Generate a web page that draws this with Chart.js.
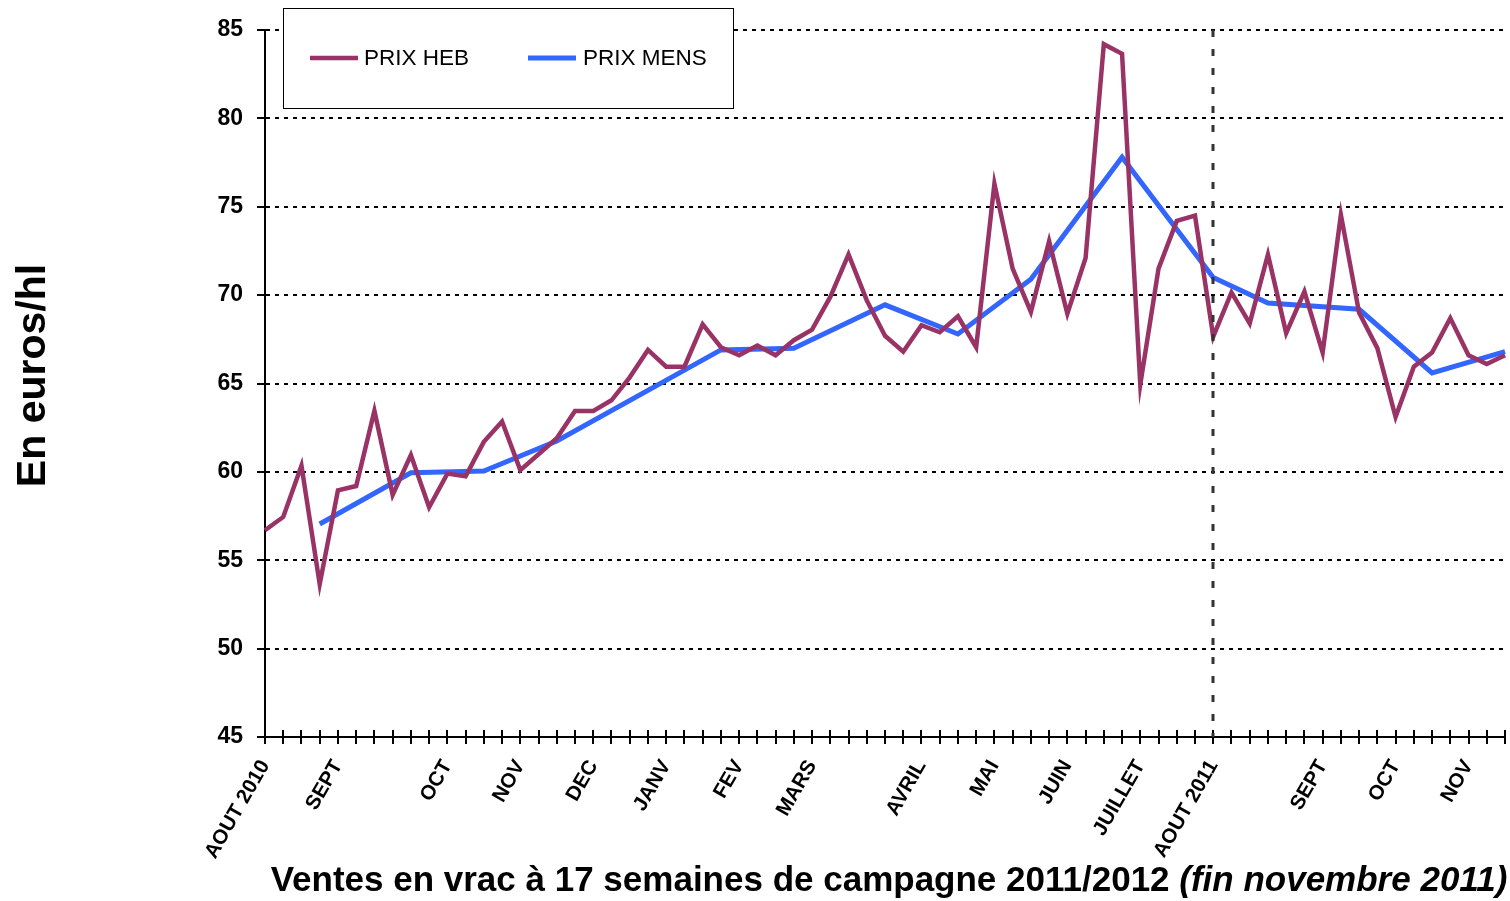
<!DOCTYPE html>
<html>
<head>
<meta charset="utf-8">
<script src="https://cdn.jsdelivr.net/npm/chart.js@4.4.1/dist/chart.umd.min.js"></script>
<style>
  html, body { margin: 0; padding: 0; background: #fff; }
  #wrap { width: 1510px; height: 901px; }
</style>
</head>
<body>
<div id="wrap"><canvas id="prixChart" width="1510" height="901"></canvas></div>
<script>
// ===== DATA =====
const monthNames = ['AOUT 2010', 'SEPT', 'OCT', 'NOV', 'DEC', 'JANV', 'FEV', 'MARS', 'AVRIL', 'MAI', 'JUIN', 'JUILLET', 'AOUT 2011', 'SEPT', 'OCT', 'NOV'];
const monthWeeks = [0, 4, 10, 14, 18, 22, 26, 30, 36, 40, 44, 48, 52, 58, 62, 66];

// weekly price (euros/hl)
const prixHeb = [
  56.7, 57.45, 60.35, 53.65, 58.95, 59.2, 63.45, 58.7, 60.95, 58.0,
  59.9, 59.75, 61.7, 62.85, 60.1, 61.0, 61.9, 63.45, 63.45, 64.05,
  65.35, 66.9, 65.95, 65.95, 68.35, 67.05, 66.6, 67.15, 66.6, 67.45,
  68.05, 69.9, 72.3, 69.7, 67.7, 66.8, 68.3, 67.9, 68.8, 67.05,
  76.3, 71.5, 69.05, 73.05, 68.95, 72.1, 84.2, 83.65, 64.95, 71.5,
  74.2, 74.5, 67.65, 70.15, 68.4, 72.3, 67.85, 70.2, 66.75, 74.55,
  69.0, 67.0, 63.1, 65.95, 66.75, 68.7, 66.6, 66.1, 66.6
];

// monthly price, one value per month, placed on its week
const prixMens = [
  null, null, null, 57.05, null, null, null, null, 59.95, null,
  null, null, 60.05, null, null, null, 61.75, null, null, null,
  null, null, null, null, null, 66.9, null, null, null, 67.0,
  null, null, null, null, 69.45, null, null, null, 67.8, null,
  null, null, 70.9, null, null, null, null, 77.8, null, null,
  null, null, 71.0, null, null, 69.55, null, null, null, null,
  69.2, null, null, null, 65.6, null, null, null, 66.8
];

const yTicks = [45, 50, 55, 60, 65, 70, 75, 80, 85];

const yTitle = 'En euros/hl';
const titleMain = 'Ventes en vrac à 17 semaines de campagne 2011/2012 ';
const titleNote = '(fin novembre 2011)';

const weekLabels = prixHeb.map((v, i) => {
  const k = monthWeeks.indexOf(i);
  return k >= 0 ? monthNames[k] : '';
});
const campagneWeek = weekLabels.indexOf('AOUT 2011');

const FONT = 'Arial, "Liberation Sans", sans-serif';

// ===== PLUGINS =====
// x ticks cross the axis: draw the part above it
const innerTicks = {
  id: 'innerTicks',
  beforeDatasetsDraw(chart) {
    const ctx = chart.ctx, x = chart.scales.x, b = chart.chartArea.bottom;
    ctx.save();
    ctx.strokeStyle = '#000';
    ctx.lineWidth = 2;
    x.ticks.forEach((t, i) => {
      const px = Math.round(x.getPixelForTick(i));
      ctx.beginPath();
      ctx.moveTo(px, b - 7);
      ctx.lineTo(px, b);
      ctx.stroke();
    });
    ctx.restore();
  }
};

// dotted separator at the start of the new campaign
const campagneLine = {
  id: 'campagneLine',
  afterDatasetsDraw(chart) {
    const ctx = chart.ctx, a = chart.chartArea;
    const px = Math.round(chart.scales.x.getPixelForValue(campagneWeek));
    ctx.save();
    ctx.strokeStyle = '#333';
    ctx.lineWidth = 3;
    ctx.setLineDash([7, 12]);
    ctx.beginPath();
    ctx.moveTo(px, a.top);
    ctx.lineTo(px, a.bottom);
    ctx.stroke();
    ctx.restore();
  }
};

const legendBox = {
  id: 'legendBox',
  afterDraw(chart) {
    const ctx = chart.ctx;
    const spots = [[310, 364], [528, 583]];
    ctx.save();
    ctx.fillStyle = '#fff';
    ctx.fillRect(283, 8, 450, 100);
    ctx.strokeStyle = '#000';
    ctx.lineWidth = 1;
    ctx.strokeRect(283.5, 8.5, 450, 100);
    chart.data.datasets.forEach((ds, i) => {
      const [lx, tx] = spots[i];
      ctx.strokeStyle = ds.borderColor;
      ctx.lineWidth = ds.borderWidth;
      ctx.beginPath();
      ctx.moveTo(lx, 58);
      ctx.lineTo(lx + 48, 58);
      ctx.stroke();
      ctx.fillStyle = '#000';
      ctx.font = '22.5px ' + FONT;
      ctx.textBaseline = 'middle';
      ctx.fillText(ds.label, tx, 59);
    });
    ctx.restore();
  }
};

// axis titles (the x one mixes bold and bold italic)
const axisTitles = {
  id: 'axisTitles',
  afterDraw(chart) {
    const ctx = chart.ctx, a = chart.chartArea;
    const bold = 'bold 35px ' + FONT;
    const ital = 'italic bold 35px ' + FONT;
    ctx.save();
    ctx.fillStyle = '#000';
    ctx.font = bold;
    const w1 = ctx.measureText(titleMain).width;
    ctx.font = ital;
    const w2 = ctx.measureText(titleNote).width;
    const x0 = (a.left + a.right) / 2 + 4 - (w1 + w2) / 2;
    ctx.textBaseline = 'alphabetic';
    ctx.font = bold;
    ctx.fillText(titleMain, x0, 891);
    ctx.font = ital;
    ctx.fillText(titleNote, x0 + w1, 891);

    ctx.translate(34, (a.top + a.bottom) / 2 - 8);
    ctx.rotate(-Math.PI / 2);
    ctx.font = 'bold 41px ' + FONT;
    ctx.textAlign = 'center';
    ctx.textBaseline = 'middle';
    ctx.fillText(yTitle, 0, 0);
    ctx.restore();
  }
};

// ===== CHART =====
const ctx = document.getElementById('prixChart').getContext('2d');
new Chart(ctx, {
  type: 'line',
  data: {
    labels: weekLabels,
    datasets: [{
      label: 'PRIX HEB',
      data: prixHeb,
      borderColor: '#993366',
      borderWidth: 4.5,
      pointRadius: 0,
      tension: 0,
      fill: false
    }, {
      label: 'PRIX MENS',
      data: prixMens,
      borderColor: '#3366FF',
      borderWidth: 5,
      pointRadius: 0,
      tension: 0,
      spanGaps: true,
      fill: false
    }]
  },
  options: {
    responsive: false,
    animation: false,
    layout: { padding: { left: 0, right: 5, top: 30, bottom: 0 } },
    plugins: { legend: { display: false }, tooltip: { enabled: false } },
    scales: {
      x: {
        type: 'category',
        offset: false,
        grid: { drawOnChartArea: false, drawTicks: true, tickLength: 7, color: '#000', lineWidth: 2 },
        border: { display: true, color: '#000', width: 2 },
        ticks: {
          autoSkip: false,
          minRotation: 60,
          maxRotation: 60,
          padding: 12,
          color: '#000',
          font: { family: FONT, size: 20.5, weight: 'bold' }
        },
        afterFit(s) { s.height = 164; s.paddingLeft = 0; s.paddingRight = 0; }
      },
      y: {
        min: yTicks[0],
        max: yTicks[yTicks.length - 1],
        afterBuildTicks(s) { s.ticks = yTicks.map(v => ({ value: v })); },
        grid: { color: '#000', lineWidth: 2, drawTicks: true, tickLength: 8 },
        border: { display: true, color: '#000', width: 2, dash: [4, 5] },
        ticks: {
          padding: 14,
          color: '#000',
          font: { family: FONT, size: 23, weight: 'bold' }
        },
        afterFit(s) { s.width = 265; }
      }
    }
  },
  plugins: [innerTicks, campagneLine, legendBox, axisTitles]
});
</script>
</body>
</html>
